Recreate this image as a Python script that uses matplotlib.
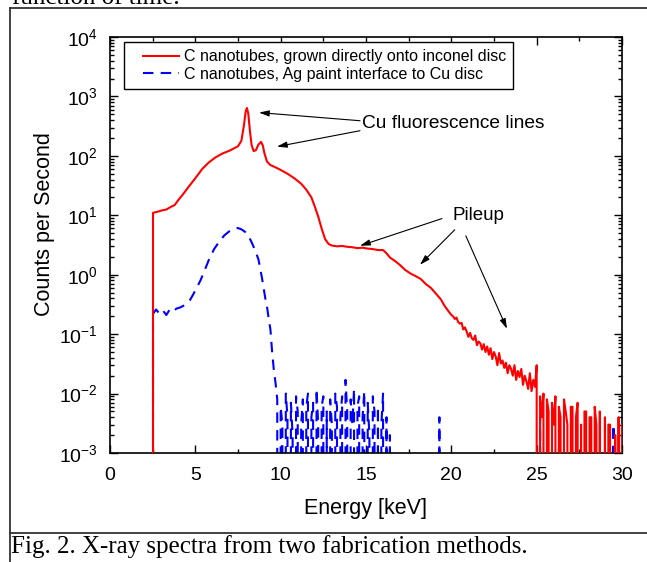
import matplotlib
matplotlib.use("Agg")
import matplotlib.pyplot as plt
import numpy as np
from matplotlib.lines import Line2D
from matplotlib.legend_handler import HandlerLine2D
from matplotlib.ticker import MultipleLocator, LogLocator, NullFormatter

plt.rcParams['font.family'] = ['Liberation Sans', 'DejaVu Sans']
plt.rcParams['mathtext.fontset'] = 'custom'
plt.rcParams['mathtext.rm'] = 'Liberation Sans'

# ---------------- data ----------------
# Red: C nanotubes grown directly onto inconel disc
red_E_main = [2.5, 2.52, 2.8, 3.0, 3.3, 3.5, 3.8, 4.0, 4.3, 4.6, 5.0, 5.4, 5.8, 6.2, 6.6,
              7.0, 7.3, 7.5, 7.7, 7.85, 7.95, 8.02, 8.1, 8.2, 8.3, 8.42, 8.55, 8.7, 8.85,
              8.95, 9.05, 9.2, 9.4, 9.7, 10.0, 10.4, 10.8, 11.2, 11.5, 11.8, 12.0, 12.2,
              12.4, 12.6, 12.8, 13.0, 13.3, 13.6, 13.9, 14.2, 14.5, 14.8, 15.1, 15.4,
              15.7, 16.0, 16.2, 16.4, 16.7, 17.0, 17.3, 17.6, 17.9, 18.2, 18.5, 18.8,
              19.1, 19.4, 19.6, 19.8]
red_C_main = [0.0, 11.0, 11.5, 12.0, 12.5, 13.5, 15.0, 18.0, 23.0, 30.0, 42.0, 60.0, 78.0,
              95.0, 110.0, 122.0, 135.0, 145.0, 180.0, 330.0, 560.0, 640.0, 520.0, 260.0,
              150.0, 120.0, 125.0, 155.0, 172.0, 150.0, 110.0, 80.0, 70.0, 64.0, 58.0,
              50.0, 42.0, 34.0, 27.0, 20.0, 14.0, 9.5, 6.0, 4.0, 3.3, 3.1, 3.0, 3.05,
              2.95, 2.9, 2.8, 2.85, 2.75, 2.7, 2.6, 2.6, 2.3, 1.95, 1.7, 1.45, 1.2, 1.05,
              0.95, 0.85, 0.7, 0.6, 0.48, 0.38, 0.3, 0.25]
red_E_tail = [round(20.0 + 0.1 * i, 1) for i in range(101)]
red_C_tail = [0.21, 0.2, 0.18, 0.19, 0.16, 0.15, 0.155, 0.12, 0.13, 0.11,
              0.09, 0.105, 0.085, 0.08, 0.095, 0.065, 0.075, 0.07, 0.055, 0.068,
              0.05, 0.062, 0.045, 0.058, 0.038, 0.05, 0.042, 0.03, 0.048, 0.032,
              0.036, 0.027, 0.033, 0.022, 0.03, 0.026, 0.02, 0.03, 0.017, 0.024,
              0.019, 0.026, 0.014, 0.02, 0.016, 0.012, 0.022, 0.011, 0.017, 0.013,
              0.03, 0.0, 0.009, 0.004, 0.01, 0.0, 0.008, 0.005, 0.0, 0.007,
              0.003, 0.009, 0.0, 0.006, 0.004, 0.0, 0.008, 0.005, 0.003, 0.0,
              0.006, 0.006, 0.0, 0.004, 0.007, 0.0, 0.003, 0.0, 0.005, 0.005,
              0.0, 0.004, 0.004, 0.0, 0.006, 0.003, 0.0, 0.005, 0.0, 0.0,
              0.004, 0.0, 0.003, 0.003, 0.0, 0.0, 0.002, 0.0, 0.004, 0.0,
              0.003]

# Blue: C nanotubes, Ag paint interface to Cu disc
blue_E_main = [2.5, 2.52, 2.7, 2.9, 3.1, 3.3, 3.5, 3.7, 3.9, 4.1, 4.3, 4.5, 4.7, 4.9, 5.1,
               5.3, 5.5, 5.8, 6.1, 6.4, 6.7, 7.0, 7.3, 7.5, 7.7, 7.9, 8.1, 8.3, 8.5, 8.7,
               8.9, 9.0, 9.1, 9.2, 9.3, 9.4, 9.5, 9.6, 9.7]
blue_C_main = [0.0, 0.22, 0.26, 0.22, 0.25, 0.21, 0.26, 0.24, 0.27, 0.28, 0.3, 0.33, 0.38,
               0.48, 0.62, 0.8, 1.1, 1.8, 2.7, 3.6, 4.6, 5.4, 6.0, 6.1, 5.8, 5.3, 4.6,
               3.5, 2.6, 1.8, 0.9, 0.6, 0.4, 0.29, 0.18, 0.12, 0.05, 0.025, 0.015]
blue_E_tail = [round(9.8 + 0.1 * i, 1) for i in range(203)]
blue_C_noise = [0.008, 0.0, 0.006, 0.003, 0.0, 0.01, 0.004, 0.0, 0.007, 0.002,
                0.0, 0.009, 0.005, 0.0, 0.003, 0.008, 0.0, 0.006, 0.01, 0.0,
                0.004, 0.007, 0.0, 0.012, 0.003, 0.0, 0.006, 0.009, 0.0, 0.005,
                0.0, 0.008, 0.003, 0.0, 0.01, 0.006, 0.0, 0.004, 0.009, 0.0,
                0.017, 0.005, 0.0, 0.008, 0.003, 0.012, 0.0, 0.006, 0.009, 0.0,
                0.004, 0.011, 0.0, 0.007, 0.002, 0.0, 0.009, 0.005, 0.0, 0.006,
                0.0, 0.003, 0.01, 0.0, 0.004, 0.0, 0.002, 0.0, 0.0]
blue_spikes = {19.3: 0.004, 25.2: 0.004, 29.5: 0.003}

xticks = [0, 5, 10, 15, 20, 25, 30]

# ---------------- assemble series ----------------
red_E = np.array(red_E_main + red_E_tail)
red_C = np.array(red_C_main + red_C_tail)

blue_tail = []
for i, e in enumerate(blue_E_tail):
    if i < len(blue_C_noise):
        blue_tail.append(blue_C_noise[i])
    else:
        blue_tail.append(blue_spikes.get(e, 0.0))
blue_E = np.array(blue_E_main + blue_E_tail)
blue_C = np.array(blue_C_main + blue_tail)


class RightHandler(HandlerLine2D):
    """Draws the legend line only on the right part of the handle box."""
    def get_xdata(self, legend, xdescent, ydescent, width, height, fontsize):
        x0 = -xdescent + 0.25 * width
        x1 = -xdescent + width
        return np.array([x0, x1]), np.array([x0, x1])


# ---------------- figure ----------------
fig = plt.figure(figsize=(6.47, 5.62), dpi=100)
ax = fig.add_axes([110 / 647, 1 - 453 / 562, 512 / 647, 416 / 562])

ax.plot(red_E, red_C, color='#ff0000', lw=1.5, zorder=3)
ax.plot(blue_E, blue_C, color='#0000ff', lw=1.5, ls=(0, (5, 3.5)), zorder=2)

ax.set_yscale('log', nonpositive='clip')
ax.set_xlim(0, 30)
ax.set_ylim(1e-3, 1e4)
ax.set_xticks(xticks)
ax.set_xticklabels([str(t) for t in xticks])
ax.xaxis.set_minor_locator(MultipleLocator(2.5))
ax.yaxis.set_major_locator(LogLocator(base=10, numticks=20))
ax.yaxis.set_minor_locator(LogLocator(base=10, subs=np.arange(2, 10), numticks=20))
ax.yaxis.set_minor_formatter(NullFormatter())

ax.tick_params(which='both', direction='in', top=True, right=True, width=1.0,
               labelsize=14, colors='black')
ax.tick_params(which='major', length=6)
ax.tick_params(which='minor', length=3)
ax.tick_params(axis='x', which='major', pad=10)
ax.tick_params(axis='y', which='major', pad=9)
for s in ax.spines.values():
    s.set_linewidth(1.2)

ax.set_xlabel('Energy [keV]', fontsize=15.5, labelpad=10)
ax.set_ylabel('Counts per Second', fontsize=15.5)
ax.yaxis.set_label_coords(-0.107, 0.55)

h_red = Line2D([], [], color='#ff0000', lw=1.5)
h_blue = Line2D([], [], color='#0000ff', lw=1.5, ls=(0, (5, 3.5)))
labels = ['C nanotubes, grown directly onto inconel disc',
          'C nanotubes, Ag paint interface to Cu disc']
leg = ax.legend([h_red, h_blue], labels, loc='upper left', bbox_to_anchor=(0.027, 0.988),
                borderaxespad=0, fontsize=11.5, handlelength=3.0, handletextpad=0.3,
                frameon=True, fancybox=False, edgecolor='black', framealpha=1,
                labelspacing=0.16, borderpad=0.45,
                handler_map={h_red: RightHandler(), h_blue: RightHandler()})
leg.get_frame().set_linewidth(1.0)

arrowprops = dict(arrowstyle='-|>,head_length=0.6,head_width=0.18', color='black',
                  lw=0.8, shrinkA=0, shrinkB=0)
ax.annotate('', xy=(8.73, 535), xytext=(14.65, 390), arrowprops=arrowprops)
ax.annotate('', xy=(9.78, 143), xytext=(14.65, 265), arrowprops=arrowprops)
ax.text(14.75, 345, 'Cu fluorescence lines', fontsize=13.8, ha='left', va='center')

ax.annotate('', xy=(14.65, 3.07), xytext=(19.45, 8.8), arrowprops=arrowprops)
ax.annotate('', xy=(18.16, 1.47), xytext=(20.2, 5.7), arrowprops=arrowprops)
ax.annotate('', xy=(23.26, 0.123), xytext=(20.85, 4.5), arrowprops=arrowprops)
ax.text(21.6, 9.8, 'Pileup', fontsize=13.5, ha='center', va='center')

# page frame and caption
frame_kw = dict(color='#333333', lw=1.3, transform=fig.transFigure)
fig.add_artist(Line2D([10 / 647, 10 / 647], [0, 1 - 8 / 562], **frame_kw))
fig.add_artist(Line2D([10 / 647, 1], [1 - 8 / 562, 1 - 8 / 562], **frame_kw))
fig.add_artist(Line2D([10 / 647, 1], [1 - 533 / 562, 1 - 533 / 562], **frame_kw))
fig.text(11 / 647, 1 - 547 / 562, 'Fig. 2. X-ray spectra from two fabrication methods.',
         family='Liberation Serif', fontsize=18, ha='left', va='center')
fig.text(12 / 647, 1 - 4 / 562, 'function of time.', family='Liberation Serif',
         fontsize=18, ha='left', va='baseline')

fig.savefig('out.png', dpi=100)
